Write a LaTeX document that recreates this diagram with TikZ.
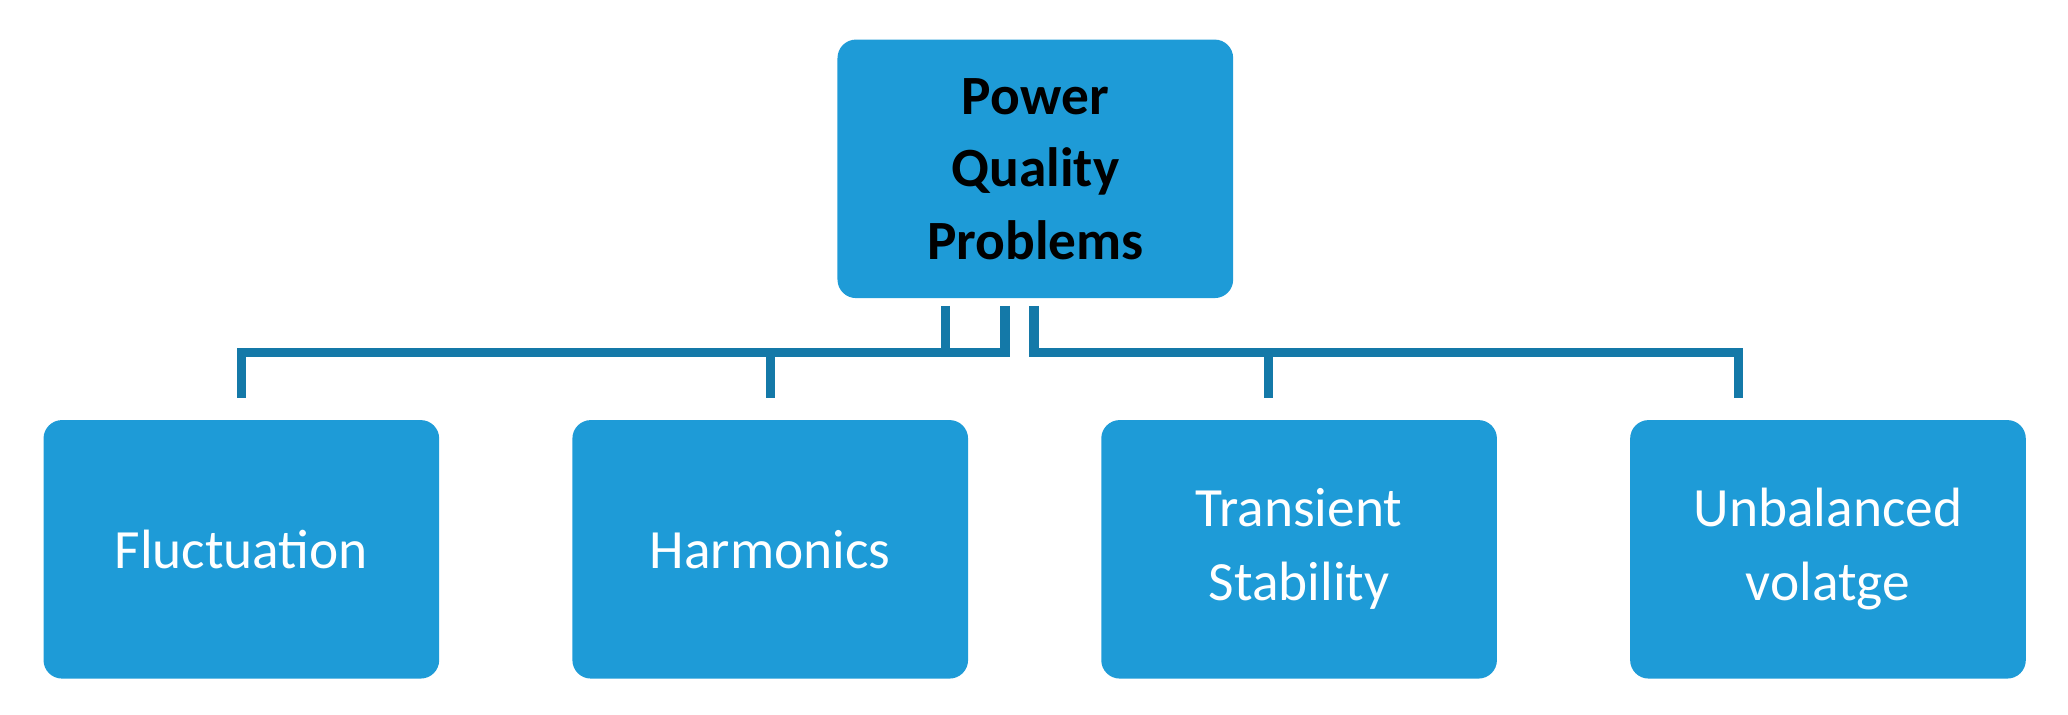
\documentclass[tikz,border=0pt]{standalone}
\usepackage{fontspec}
\setmainfont{Carlito}
\definecolor{boxblue}{HTML}{1E9BD7}
\definecolor{linkblue}{HTML}{1479A8}
\begin{document}
\begin{tikzpicture}[x=0.5pt,y=-0.5pt,
  box/.style={draw=none,fill=boxblue,rounded corners=7pt,minimum width=150pt,minimum height=98pt,align=center,inner sep=0pt},
  top/.style={box,font=\fontsize{21pt}{27.5pt}\selectfont\bfseries,text=black},
  sub/.style={box,font=\fontsize{21pt}{28pt}\selectfont,text=white},
  link/.style={draw=linkblue,line width=3.5pt}]
\useasboundingbox (0,0) rectangle (1568,542);
\node[top] (pq) at (785,128) {Power\\Quality\\Problems};
\node[sub] (f) at (183,416.5) {Fluctuation};
\node[sub] (h) at (584,416.5) {Harmonics};
\node[sub] (t) at (985,416.5) {Transient\\Stability};
\node[sub] (u) at (1386,416.5) {Unbalanced\\volatge};
\coordinate (a1) at (717,232); \coordinate (a2) at (762,232); \coordinate (a3) at (784,232);
\coordinate (hl) at (183,267); \coordinate (hr) at (1318,267);
\draw[link] (a1) -- (717,267);
\draw[link] (a2) -- (762,267) -- (hl) -- (183,302);
\draw[link] (584,267) -- (584,302);
\draw[link] (a3) -- (784,267) -- (hr) -- (1318,302);
\draw[link] (962,267) -- (962,302);
\end{tikzpicture}
\end{document}
